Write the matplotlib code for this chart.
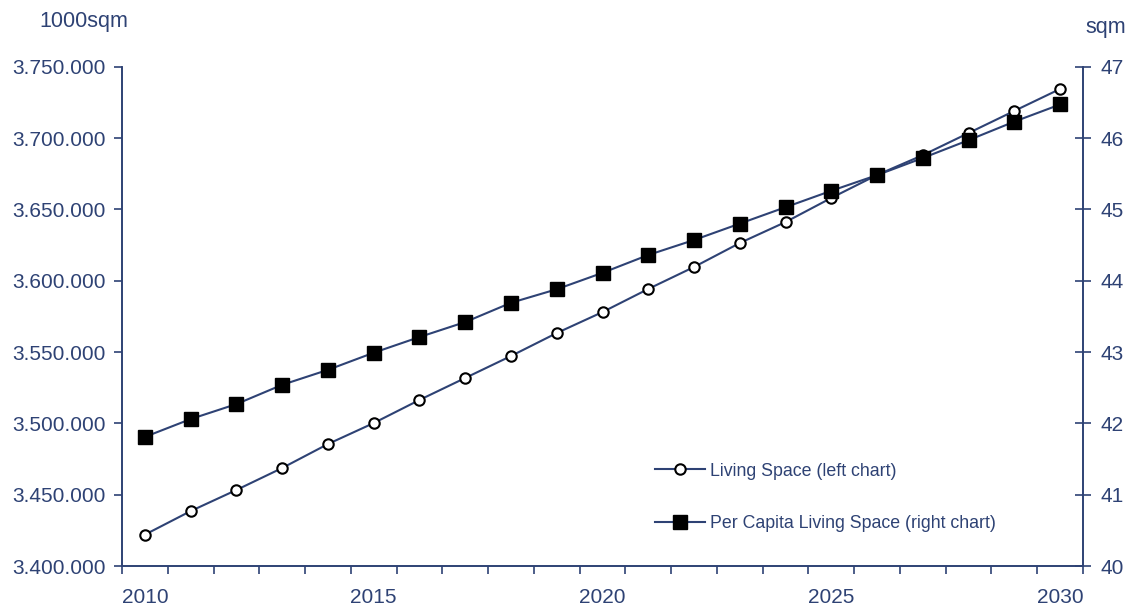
import matplotlib
matplotlib.use("Agg")
import matplotlib.pyplot as plt
from matplotlib.ticker import FixedLocator, FuncFormatter, MultipleLocator

# data
years = list(range(2010, 2031))
living_space = [3422000, 3438500, 3453300, 3468700, 3485500, 3500200, 3516400,
                3531800, 3547200, 3563300, 3578000, 3594200, 3609600, 3626400,
                3641100, 3658000, 3674100, 3688000, 3703500, 3719000, 3734400]
per_capita = [41.81, 42.06, 42.27, 42.54, 42.75, 42.99, 43.21, 43.42, 43.69,
              43.88, 44.11, 44.36, 44.57, 44.80, 45.03, 45.26, 45.48, 45.72,
              45.97, 46.23, 46.47]
year_labels = [2010, 2015, 2020, 2025, 2030]

navy = '#2e4274'
plt.rcParams['font.family'] = ['Liberation Sans', 'DejaVu Sans']

fig = plt.figure(figsize=(11.35, 6.1), dpi=100)
ax = fig.add_axes([0.1075, 0.0721, 0.8467, 0.8186])
ax2 = ax.twinx()

l1, = ax.plot(years, living_space, color=navy, lw=1.5, marker='o', ms=7.5,
              mfc='white', mec='black', mew=1.5, label='Living Space (left chart)')
l2, = ax2.plot(years, per_capita, color=navy, lw=1.5, marker='s', ms=10,
               mfc='black', mec='black', label='Per Capita Living Space (right chart)')

ax.set_xlim(2009.5, 2030.5)
ax.set_ylim(3400000, 3750000)
ax2.set_ylim(40, 47)

# x axis: ticks at year boundaries, labels every 5 years
ax.xaxis.set_major_locator(FixedLocator([y - 0.5 for y in years] + [2030.5]))
ax.xaxis.set_major_formatter(FuncFormatter(lambda v, p: ''))
ax.xaxis.set_minor_locator(FixedLocator(year_labels))
ax.xaxis.set_minor_formatter(FuncFormatter(lambda v, p: f"{int(v)}"))
ax.tick_params(axis='x', which='major', direction='out', length=6, width=1.2, color=navy)
ax.tick_params(axis='x', which='minor', length=0, pad=16, labelsize=15, labelcolor=navy)

ax.yaxis.set_major_locator(MultipleLocator(50000))
ax.yaxis.set_major_formatter(FuncFormatter(lambda v, p: f"{v:,.0f}".replace(',', '.')))
ax.tick_params(axis='y', direction='out', length=6, width=1.2, color=navy,
               labelsize=15, labelcolor=navy, pad=6)

ax2.yaxis.set_major_locator(MultipleLocator(1))
ax2.tick_params(axis='y', direction='inout', length=11, width=1.2, color=navy,
                labelsize=15, labelcolor=navy, pad=7)

for a in (ax, ax2):
    a.spines['top'].set_visible(False)
    for s in ('left', 'right', 'bottom'):
        a.spines[s].set_color(navy)
        a.spines[s].set_linewidth(1.2)

fig.text(0.035, 0.965, '1000sqm', color=navy, fontsize=15.5, ha='left', va='center')
fig.text(0.956, 0.955, 'sqm', color=navy, fontsize=15.5, ha='left', va='center')

ax.legend(handles=[l1, l2], loc='upper left', bbox_to_anchor=(0.555, 0.207),
          frameon=False, fontsize=12.8, labelcolor=navy, handlelength=2.8,
          handletextpad=0.3, labelspacing=2.0, borderpad=0, borderaxespad=0)

fig.savefig('out.png', dpi=100)
